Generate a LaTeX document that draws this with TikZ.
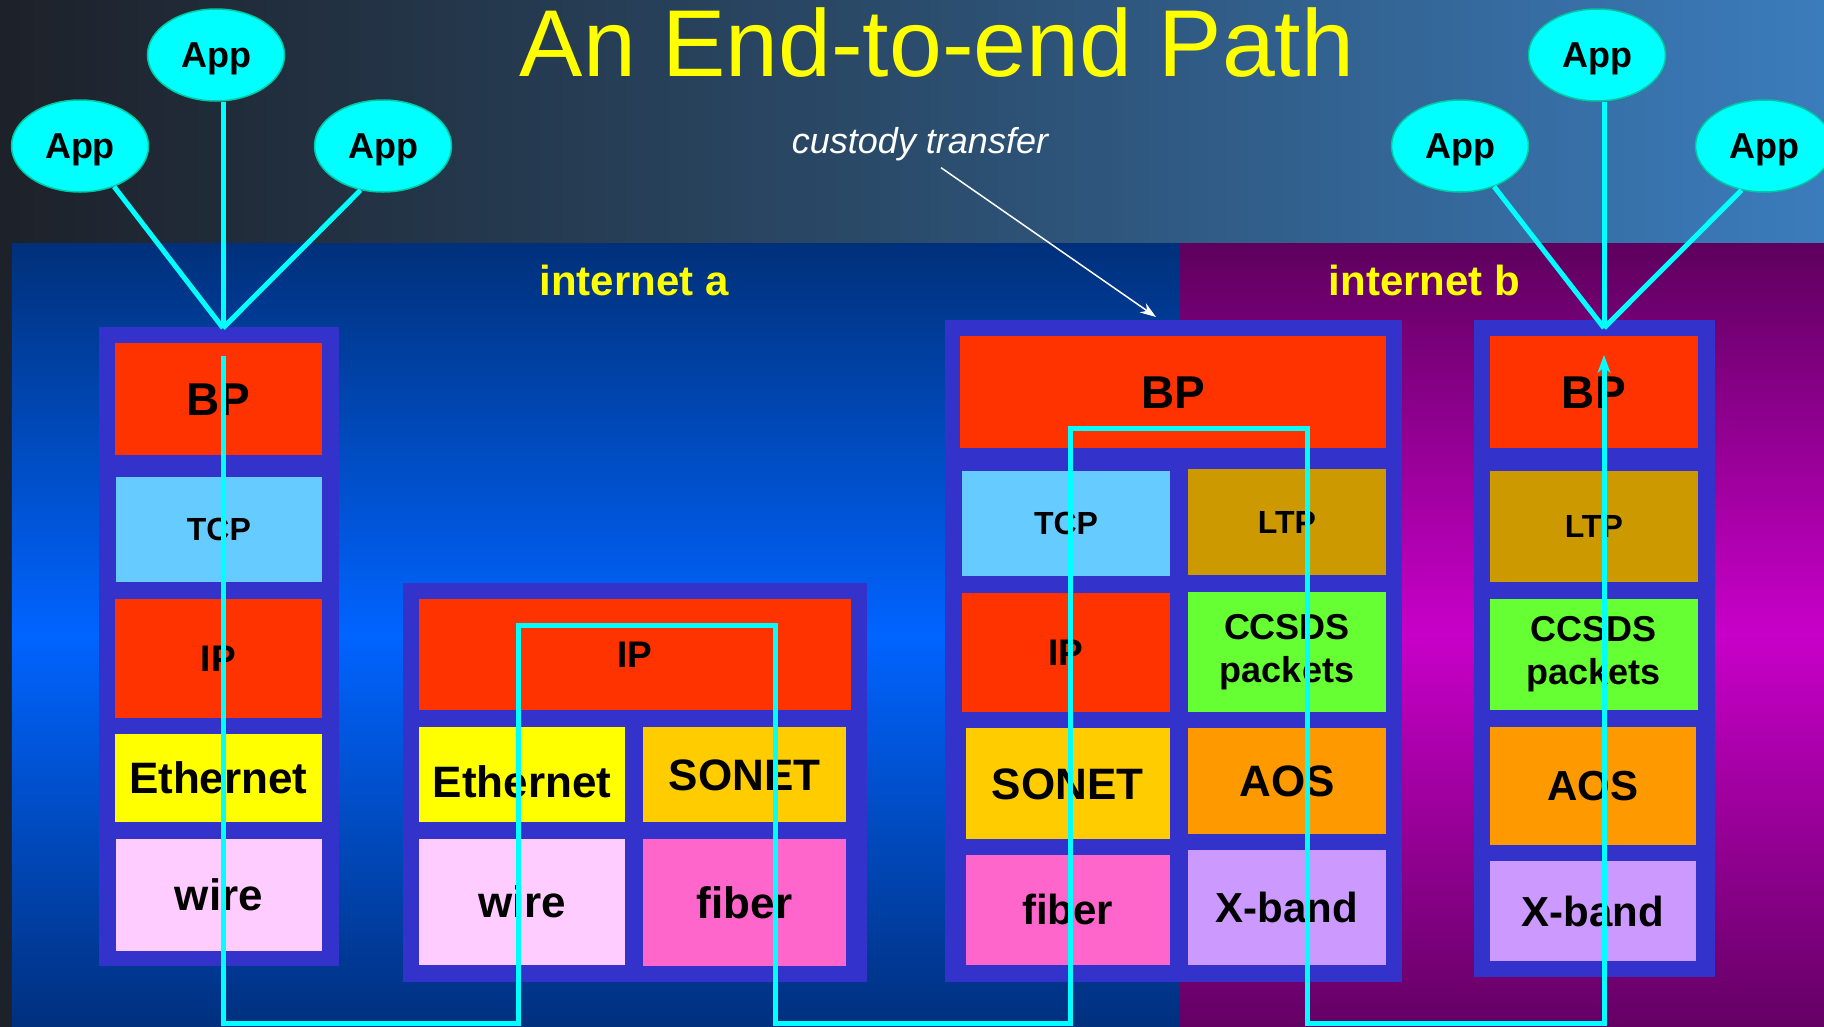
\documentclass[tikz,border=0pt]{standalone}
\usepackage{fontspec}
\setmainfont{Liberation Sans}
\usetikzlibrary{shapes.geometric,arrows.meta}
\definecolor{bgdark}{HTML}{1D2129}
\definecolor{bgmid}{HTML}{2B4C6C}
\definecolor{bgright}{HTML}{3B7CBC}
\definecolor{netaTop}{HTML}{00307A}
\definecolor{netaMid}{HTML}{0064FF}
\definecolor{netaBot}{HTML}{00307E}
\definecolor{netbTop}{HTML}{5E005E}
\definecolor{netbMid}{HTML}{C800C8}
\definecolor{netbBot}{HTML}{640064}
\definecolor{stackblue}{HTML}{3333CC}
\definecolor{cred}{HTML}{FF3300}
\definecolor{ctcp}{HTML}{66CCFF}
\definecolor{ceth}{HTML}{FFFF00}
\definecolor{cwire}{HTML}{FFCCFF}
\definecolor{csonet}{HTML}{FFCC00}
\definecolor{cfiber}{HTML}{FF66CC}
\definecolor{cltp}{HTML}{CC9900}
\definecolor{cccsds}{HTML}{66FF33}
\definecolor{caos}{HTML}{FF9900}
\definecolor{cxband}{HTML}{CC99FF}
\definecolor{appcyan}{HTML}{00FFFF}
\definecolor{appedge}{HTML}{00C8A0}
\definecolor{titleyellow}{HTML}{FFFF00}
\newcommand\lyr[8][]{\node[layer,fill=#3,minimum width={#6-#4},minimum height={#7-#5},#1] (#2) at ({(#4+#6)/2},{(#5+#7)/2}) {#8};}
\begin{document}
\begin{tikzpicture}[x=1pt,y=-1pt,
  layer/.style={inner sep=0pt, outer sep=0pt, font=\bfseries, text=black},
  f32/.style={font=\fontsize{32}{40}\selectfont\bfseries, text height=22.9pt, text depth=0pt},
  f36/.style={font=\fontsize{36}{43}\selectfont\bfseries, align=center},
  f37/.style={font=\fontsize{37}{44}\selectfont\bfseries, text height=26.5pt, text depth=0pt},
  f42/.style={font=\fontsize{42}{50}\selectfont\bfseries, text height=30.1pt, text depth=0pt},
  f44/.style={font=\fontsize{44}{53}\selectfont\bfseries, text height=31.5pt, text depth=0pt},
  f46/.style={font=\fontsize{46}{55}\selectfont\bfseries, text height=32.9pt, text depth=0pt},
  app/.style={ellipse, fill=appcyan, draw=appedge, line width=1.5pt, minimum width=137pt, minimum height=92pt, inner sep=0pt, font=\fontsize{36}{40}\selectfont\bfseries, text height=25.8pt, text depth=0pt},
  appline/.style={draw=appcyan, line width=5pt},
  flow/.style={draw=appcyan, line width=5pt, line join=miter, -{Stealth[length=18pt,width=13pt]}},
  nettext/.style={font=\fontsize{42}{50}\selectfont\bfseries, text=titleyellow, inner sep=0pt, anchor=base},
]
\useasboundingbox (0,0) rectangle (1824,1026);
\clip (0,0) rectangle (1824,1026);
\fill[left color=bgdark, right color=bgright, middle color=bgmid] (0,0) rectangle (1824,1026);

% network panels
\node[anchor=north west, minimum width=1168.4pt, minimum height=783pt, inner sep=0pt, top color=netaTop, bottom color=netaBot, middle color=netaMid] (netA) at (11.6,243) {};
\node[anchor=north west, minimum width=644.4pt, minimum height=783pt, inner sep=0pt, top color=netbTop, bottom color=netbBot, middle color=netbMid] (netB) at (1179.6,243) {};
\node[nettext] (labA) at (634,295) {internet a};
\node[nettext] (labB) at (1424.5,295) {internet b};

% stacks
\lyr{lStack}{stackblue}{99}{327}{338.6}{966}{}
\lyr{mStack}{stackblue}{402.6}{583}{866.8}{982}{}
\lyr{gStack}{stackblue}{945}{320}{1402}{982}{}
\lyr{rStack}{stackblue}{1474}{320}{1714.8}{977}{}

% left stack
\lyr[f46]{lBP}{cred}{114.6}{343}{322}{454.7}{BP}
\lyr[f32]{lTCP}{ctcp}{115.8}{477}{322}{582}{TCP}
\lyr[f37]{lIP}{cred}{114.6}{598.7}{322}{718}{IP}
\lyr[f44]{lEth}{ceth}{114.6}{734}{322}{822}{Ethernet}
\lyr[f44]{lWire}{cwire}{115.8}{839}{322}{950.7}{wire}

% middle stack
\lyr[f37]{mIP}{cred}{418.8}{598.7}{850.5}{710}{IP}
\lyr[f44,text height=45.5pt]{mEth}{ceth}{418.8}{727}{625.4}{822}{Ethernet}
\lyr[f44]{mSonet}{csonet}{642.8}{727}{846.4}{822}{SONET}
\lyr[f44]{mWire}{cwire}{418.8}{839}{625.4}{964.7}{wire}
\lyr[f44]{mFiber}{cfiber}{642.8}{839}{846.4}{966}{fiber}

% gateway stack
\lyr[f46]{gBP}{cred}{960}{336}{1386}{447.7}{BP}
\lyr[f32]{gTCP}{ctcp}{962}{471}{1170}{575.7}{TCP}
\lyr[f32]{gLTP}{cltp}{1188}{469}{1386}{574.7}{LTP}
\lyr[f37]{gIP}{cred}{962}{593}{1170}{712}{IP}
\lyr[f36]{gCCSDS}{cccsds}{1188}{592}{1386}{712}{CCSDS\\packets}
\lyr[f44]{gSonet}{csonet}{965.5}{728}{1170}{838.7}{SONET}
\lyr[f44]{gAOS}{caos}{1188}{728}{1386}{833.7}{AOS}
\lyr[f42]{gFiber}{cfiber}{965.5}{854.7}{1170}{964.7}{fiber}
\lyr[f42]{gXband}{cxband}{1188}{849.7}{1386}{964.7}{X-band}

% right stack
\lyr[f46]{rBP}{cred}{1489.6}{336}{1698}{447.7}{BP}
\lyr[f32]{rLTP}{cltp}{1489.6}{471}{1698}{582}{LTP}
\lyr[f36]{rCCSDS}{cccsds}{1489.6}{598.7}{1698}{710}{CCSDS\\packets}
\lyr[f42]{rAOS}{caos}{1489.6}{727}{1696}{844.7}{AOS}
\lyr[f42]{rXband}{cxband}{1489.6}{860.7}{1696}{961.3}{X-band}

% end-to-end path
\coordinate (pStart) at (223,356);
\coordinate (pEnd) at (1604,355);
\coordinate (m1) at (518,625);
\coordinate (m2) at (775.5,625);
\coordinate (g1) at (1070,428);
\coordinate (g2) at (1307.6,428);
\coordinate (bot) at (0,1023);
\draw[flow] (pStart) -- (pStart |- bot) -- (m1 |- bot) -- (m1) -- (m2) -- (m2 |- bot) -- (g1 |- bot) -- (g1) -- (g2) -- (g2 |- bot) -- (pEnd |- bot) -- (pEnd);

% applications
\node[app] (aL1) at (80,146) {App};
\node[app] (aL2) at (216,55) {App};
\node[app] (aL3) at (383,146) {App};
\node[app] (aR1) at (1460,146) {App};
\node[app] (aR2) at (1597,55) {App};
\node[app] (aR3) at (1764,146) {App};
\coordinate (jL) at (223,328);
\coordinate (jR) at (1604,328);
\draw[appline] (aL1.310) -- (jL);
\draw[appline] (aL2.south -| jL) -- (jL);
\draw[appline] (aL3.243) -- (jL);
\draw[appline] (aR1.310) -- (jR);
\draw[appline] (aR2.south -| jR) -- (jR);
\draw[appline] (aR3.243) -- (jR);

% title
\node[anchor=base, font=\fontsize{95}{100}\selectfont, text=titleyellow, inner sep=0pt] (title) at (937,76) {An End-to-end Path};

% custody transfer
\node[anchor=base, font=\fontsize{36}{40}\selectfont\itshape, text=white, inner sep=0pt] (ct) at (920,153) {custody transfer};
\draw[white, line width=1.5pt, -{Stealth[length=16pt,width=11pt]}] ([shift={(21,7)}]ct.south) -- ([shift={(-17.5,-3)}]gStack.north);
\end{tikzpicture}
\end{document}
